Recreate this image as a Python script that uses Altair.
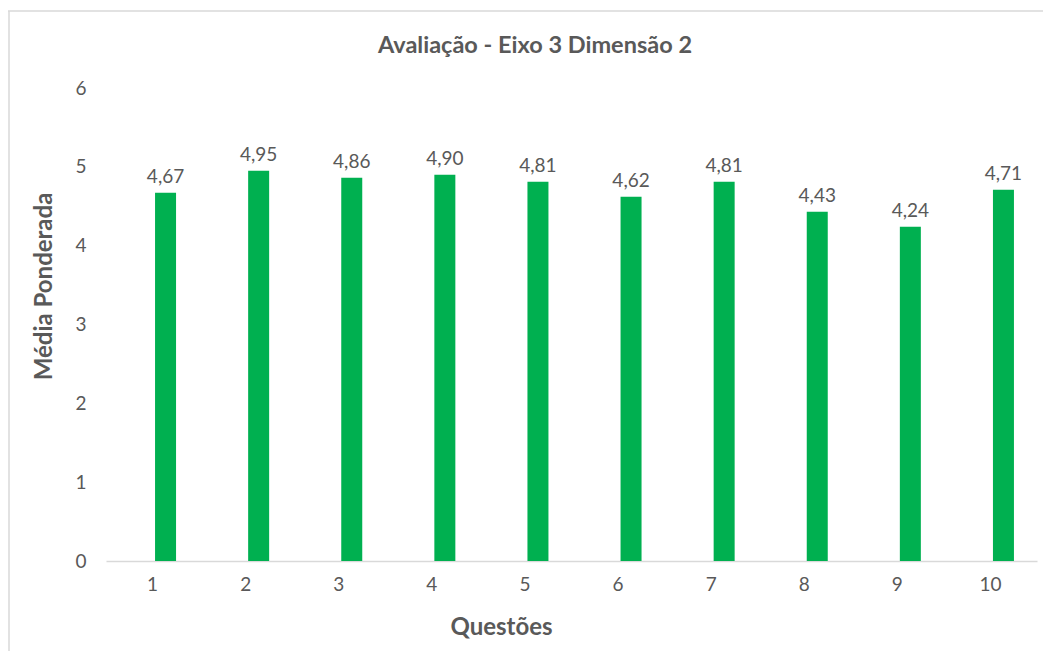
import altair as alt
import pandas as pd

questoes = ["1", "2", "3", "4", "5", "6", "7", "8", "9", "10"]
medias = [4.67, 4.95, 4.86, 4.90, 4.81, 4.62, 4.81, 4.43, 4.24, 4.71]
titulo = "Avaliação - Eixo 3 Dimensão 2"

df = pd.DataFrame({"q": questoes, "v": medias})
df_title = pd.DataFrame({"t": [titulo]})

FONT = "Lato"
GRAY = "#595959"

x = alt.X("q:N", sort=questoes, title="Questões",
          scale=alt.Scale(paddingInner=0, paddingOuter=0),
          axis=alt.Axis(labelAngle=0, ticks=False, labelPadding=14,
                        domainColor="#D9D9D9", domainWidth=1.5,
                        labelFontSize=19, labelColor=GRAY, labelFont=FONT,
                        titleFont=FONT, titleFontSize=24, titleColor=GRAY,
                        titleFontWeight="bold", titleX=395, titleY=66,
                        titleBaseline="middle", titleAlign="center"))
y = alt.Y("v:Q", title="Média Ponderada",
          scale=alt.Scale(domain=[0, 6], nice=False),
          axis=alt.Axis(values=[0, 1, 2, 3, 4, 5, 6], ticks=False, domain=False,
                        grid=False, labelPadding=20, labelFontSize=19,
                        labelColor=GRAY, labelFont=FONT,
                        titleFont=FONT, titleFontSize=24, titleColor=GRAY,
                        titleFontWeight="bold", titleX=-62, titleY=198,
                        titleAngle=-90, titleBaseline="middle", titleAlign="center"))

bars = alt.Chart(df).mark_bar(size=21, xOffset=13, color="#00B050").encode(x=x, y=y)

labels = alt.Chart(df).transform_calculate(
    lab="replace(format(datum.v, '.2f'), '.', ',')"
).mark_text(xOffset=13, dy=-10, baseline="alphabetic", fontSize=19,
            font=FONT, color=GRAY).encode(x=x, y=y, text="lab:N")

title_mark = alt.Chart(df_title).mark_text(
    font=FONT, fontSize=23.5, fontWeight="bold", color=GRAY,
    align="center", baseline="middle"
).encode(x=alt.value(429), y=alt.value(-42), text="t:N")

top_border = alt.Chart(df_title).mark_rule(color="#D9D9D9", strokeWidth=1.5).encode(
    x=alt.value(-98), x2=alt.value(945), y=alt.value(-77))
left_border = alt.Chart(df_title).mark_rule(color="#D9D9D9", strokeWidth=1.5).encode(
    x=alt.value(-97), y=alt.value(-77), y2=alt.value(600))

chart = alt.layer(top_border, left_border, title_mark, bars, labels).properties(
    width=931, height=473,
    autosize=alt.AutoSizeParams(type="none"),
    padding={"left": 98, "top": 80, "right": 6, "bottom": 90},
).configure_view(stroke=None)

chart.save("out.html", embed_options={"renderer": "svg", "actions": False})
